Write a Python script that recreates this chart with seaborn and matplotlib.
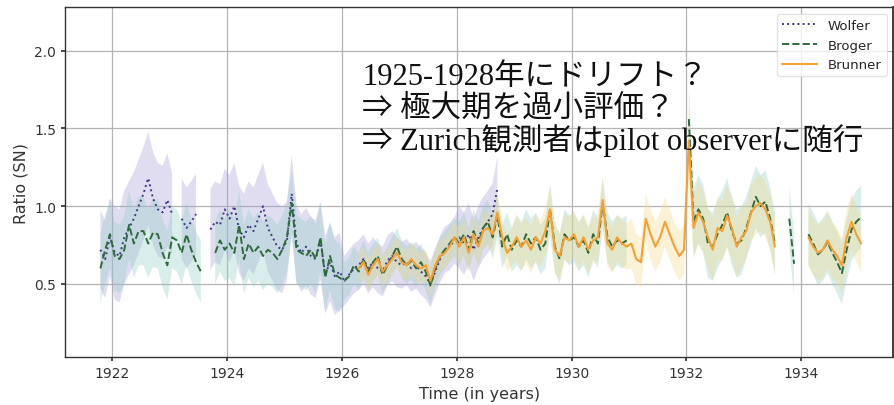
import numpy as np
import pandas as pd
import matplotlib
matplotlib.use("Agg")
import matplotlib.pyplot as plt
import seaborn as sns

nan = np.nan

# monthly ratios, Oct 1921 .. Jan 1935
wolfer = [
    0.72, 0.66, 0.80,                                                      # 1921 (Oct-Dec)
    0.70, 0.68, 0.80, 0.86, 0.92, 1.00, 1.08, 1.18, 1.05, 0.98, 0.96, 1.04,  # 1922
    0.95, nan, 0.92, 0.86, 0.90, 0.95, nan, nan, 0.85, 0.90, 0.88, 0.98,     # 1923
    0.92, 1.00, 0.85, 0.80, 0.88, 0.84, 0.92, 1.00, 0.86, 0.80, 0.74, 0.72,  # 1924
    0.78, 1.08, 0.76, 0.70, 0.74, 0.68, 0.66, 0.78, 0.56, 0.64, 0.55, 0.58,  # 1925
    0.52, 0.56, 0.60, 0.62, 0.66, 0.60, 0.64, 0.60, 0.58, 0.65, 0.68, 0.64,  # 1926
    0.62, 0.64, 0.60, 0.62, 0.58, 0.55, 0.50, 0.58, 0.66, 0.72, 0.74, 0.78,  # 1927
    0.80, 0.76, 0.82, 0.72, 0.80, 0.86, 0.90, 0.95, 1.12, nan, nan, nan,     # 1928
    nan, nan, nan, nan, nan, nan, nan, nan, nan, nan, nan, nan,              # 1929
    nan, nan, nan, nan, nan, nan, nan, nan, nan, nan, nan, nan,              # 1930
    nan, nan, nan, nan, nan, nan, nan, nan, nan, nan, nan, nan,              # 1931
    nan, nan, nan, nan, nan, nan, nan, nan, nan, nan, nan, nan,              # 1932
    nan, nan, nan, nan, nan, nan, nan, nan, nan, nan, nan, nan,              # 1933
    nan, nan, nan, nan, nan, nan, nan, nan, nan, nan, nan, nan,              # 1934
    nan,                                                                   # 1935
]
broger = [
    0.60, 0.72, 0.82,
    0.68, 0.66, 0.72, 0.88, 0.76, 0.84, 0.84, 0.76, 0.83, 0.82, 0.70, 0.62,
    0.80, 0.78, 0.70, 0.82, 0.72, 0.64, 0.58, nan, nan, 0.70, 0.78, 0.72,
    0.76, 0.70, 0.88, 0.66, 0.76, 0.70, 0.74, 0.68, 0.72, 0.70, 0.66, 0.72,
    0.80, 1.02, 0.72, 0.70, 0.68, 0.72, 0.66, 0.80, 0.54, 0.68, 0.56, 0.54,
    0.52, 0.55, 0.62, 0.58, 0.66, 0.58, 0.64, 0.68, 0.56, 0.62, 0.68, 0.74,
    0.66, 0.62, 0.65, 0.60, 0.64, 0.58, 0.49, 0.60, 0.68, 0.72, 0.76, 0.80,
    0.76, 0.82, 0.72, 0.84, 0.76, 0.86, 0.90, 0.80, 0.94, 0.74, 0.82, 0.72,
    0.78, 0.74, 0.82, 0.76, 0.80, 0.72, 0.76, 0.98, 0.74, 0.66, 0.82, 0.78,
    0.80, 0.74, 0.78, 0.70, 0.82, 0.76, 1.02, 0.80, 0.74, 0.78, 0.76, 0.78,
    nan, nan, nan, nan, nan, nan, nan, nan, nan, nan, nan, nan,
    1.56, 0.90, 0.98, 0.92, 0.76, 0.74, 0.82, 0.88, 0.96, 0.84, 0.76, 0.78,
    0.86, 0.96, 1.06, 1.00, 1.03, 0.92, 0.76, nan, nan, 0.92, 0.63, nan,
    nan, 0.82, 0.76, 0.69, 0.72, 0.77, 0.70, 0.64, 0.57, 0.72, 0.85, 0.90,
    0.93,
]
brunner = [
    nan, nan, nan,
    nan, nan, nan, nan, nan, nan, nan, nan, nan, nan, nan, nan,
    nan, nan, nan, nan, nan, nan, nan, nan, nan, nan, nan, nan,
    nan, nan, nan, nan, nan, nan, nan, nan, nan, nan, nan, nan,
    nan, nan, nan, nan, nan, nan, nan, nan, nan, nan, nan, nan,
    nan, nan, nan, 0.60, 0.64, 0.56, 0.62, 0.66, 0.58, 0.62, 0.66, 0.70,
    0.64, 0.62, 0.66, 0.62, 0.60, 0.62, 0.52, 0.62, 0.68, 0.70, 0.74, 0.80,
    0.74, 0.80, 0.70, 0.82, 0.74, 0.84, 0.86, 0.82, 0.96, 0.80, 0.70, 0.74,
    0.80, 0.74, 0.78, 0.72, 0.80, 0.76, 0.84, 0.98, 0.72, 0.68, 0.80, 0.78,
    0.82, 0.74, 0.80, 0.72, 0.78, 0.80, 1.04, 0.76, 0.72, 0.80, 0.76, 0.74,
    0.76, 0.66, 0.64, 0.92, 0.82, 0.74, 0.80, 0.90, 0.82, 0.74, 0.68, 0.72,
    1.42, 0.86, 0.96, 0.90, 0.80, 0.72, 0.86, 0.84, 0.94, 0.86, 0.74, 0.80,
    0.84, 0.96, 1.00, 1.02, 0.98, 0.90, 0.74, nan, nan, nan, nan, nan,
    nan, 0.80, 0.74, 0.70, 0.72, 0.78, 0.72, 0.68, 0.62, 0.80, 0.90, 0.82,
    0.76,
]

# half-width of the shaded spread, one value per year 1921..1935
spread_years = list(range(1921, 1936))
wolfer_spread = [0.25, 0.30, 0.26, 0.28, 0.25, 0.16, 0.15, 0.20, 0, 0, 0, 0, 0, 0, 0]
broger_spread = [0.22, 0.22, 0.20, 0.22, 0.22, 0.12, 0.12, 0.14, 0.16, 0.16, 0, 0.22, 0.20, 0.20, 0.20]
brunner_spread = [0, 0, 0, 0, 0, 0.10, 0.10, 0.12, 0.15, 0.15, 0.16, 0.20, 0.18, 0.18, 0.18]

months = pd.date_range("1921-10-01", periods=len(wolfer), freq="MS")
t = months.year + (months.month - 0.5) / 12.0

df = pd.DataFrame({"t": t, "year": months.year,
                   "Wolfer": wolfer, "Broger": broger, "Brunner": brunner})
spreads = pd.DataFrame({"year": spread_years, "Wolfer": wolfer_spread,
                        "Broger": broger_spread, "Brunner": brunner_spread}).set_index("year")

series = [
    ("Wolfer", "#3f3a86", "#a79fd6", ":", 1.4),
    ("Broger", "#2f6a3c", "#93cfc6", "--", 1.4),
    ("Brunner", "#f5a031", "#f5d98c", "-", 1.5),
]

sns.set_theme(style="ticks")
plt.rcParams["font.family"] = ["DejaVu Sans"]

fig = plt.figure(figsize=(8.94, 4.06), dpi=100)
ax = fig.add_axes([0.073, 0.118, 0.926, 0.862])

for name, lc, bc, ls, lw in series:
    hw = spreads.loc[df["year"], name].to_numpy()
    v = df[name].to_numpy()
    ax.fill_between(df["t"], v - hw, v + hw, color=bc, alpha=0.35, lw=0)

for name, lc, bc, ls, lw in series:
    sub = df[["t", name]].copy()
    # a new segment starts after every gap, so lines are not bridged
    sub["seg"] = sub[name].isna().cumsum()
    sub = sub.dropna()
    sns.lineplot(data=sub, x="t", y=name, units="seg", estimator=None, ax=ax,
                 color=lc, linestyle=ls, linewidth=lw)
    ax.plot([], [], color=lc, linestyle=ls, linewidth=lw, label=name)

ax.set_xlim(1921.18, 1935.6)
ax.set_ylim(0.03, 2.28)
ax.set_xticks([1922, 1924, 1926, 1928, 1930, 1932, 1934])
ax.set_yticks([0.5, 1.0, 1.5, 2.0])
ax.set_yticklabels(["0.5", "1.0", "1.5", "2.0"])
ax.grid(True, color="#b4b4b4", lw=0.9)
ax.tick_params(labelsize=10, colors="#333333", length=3)
ax.set_xlabel("Time (in years)", fontsize=11.5, color="#333333")
ax.set_ylabel("Ratio (SN)", fontsize=11.5, color="#333333")
for s in ["left", "bottom", "top"]:
    ax.spines[s].set_visible(True)
    ax.spines[s].set_color("#333333")
    ax.spines[s].set_linewidth(1.0)

leg = ax.legend(loc="upper right", fontsize=9.5, frameon=True, handlelength=2.6,
                borderaxespad=0.5)
leg.get_frame().set_edgecolor("#dddddd")

note_lines = ["1925-1928年にドリフト？",
              "⇒ 極大期を過小評価？",
              "⇒ Zurich観測者はpilot observerに随行"]
note_baselines = [85, 117, 150]
for line, yb in zip(note_lines, note_baselines):
    fig.text(362 / 894, 1 - yb / 406, line, fontsize=22, va="baseline", ha="left",
             color="#111111",
             family=["Liberation Serif", "Noto Sans CJK JP", "DejaVu Sans"])

fig.savefig("out.png", dpi=100)
